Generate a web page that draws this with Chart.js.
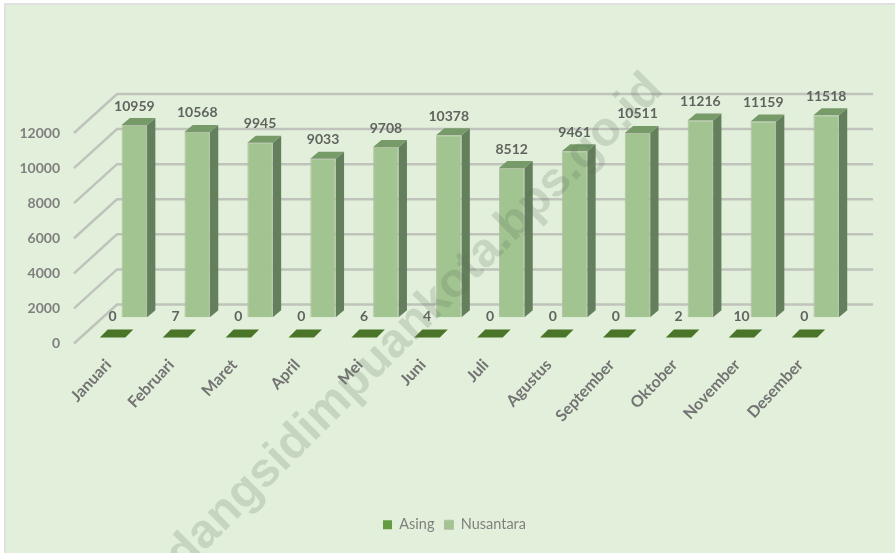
<!DOCTYPE html>
<html><head><meta charset="utf-8">
<style>
html,body{margin:0;padding:0;background:#fff;width:895px;height:553px;overflow:hidden}
#panel{position:absolute;left:4px;top:3px;width:889px;height:548px;background:#e2efda;border-left:2px solid #e0e0e0;border-top:2px solid #e0e0e0}
canvas{position:absolute;left:0;top:0}
</style>
<script src="https://cdn.jsdelivr.net/npm/chart.js@4"></script>
</head><body>
<div id="panel"></div>
<canvas id="c" width="895" height="553"></canvas>
<script>
const categories = ["Januari","Februari","Maret","April","Mei","Juni","Juli","Agustus","September","Oktober","November","Desember"];
const asing = [0,7,0,0,6,4,0,0,0,2,10,0];
const nusantara = [10959,10568,9945,9033,9708,10378,8512,9461,10511,11216,11159,11518];
const watermark = "padangsidimpuankota.bps.go.id";

const FONT = "Lato";
const wall = {dx:43, dy:-39, right:873};

const bar3d = {
  id:'bar3d',
  beforeDatasetsDraw(chart){
    const ctx = chart.ctx, y = chart.scales.y;
    const fx = 74, bx = fx + wall.dx;
    ctx.save();
    y.ticks.forEach(t=>{
      const py = y.getPixelForValue(t.value);
      ctx.beginPath();
      ctx.moveTo(fx,py); ctx.lineTo(bx,py+wall.dy); ctx.lineTo(wall.right,py+wall.dy);
      ctx.strokeStyle='#bfc3bb'; ctx.lineWidth=2.5; ctx.stroke();
    });
    const face=(pts,c)=>{ctx.beginPath();pts.forEach((p,i)=>i?ctx.lineTo(p[0],p[1]):ctx.moveTo(p[0],p[1]));ctx.closePath();ctx.fillStyle=c;ctx.fill();};
    chart.getDatasetMeta(1).data.forEach(el=>{
      const l=el.x-el.width/2, r=el.x+el.width/2, d=8.3, e=-7;
      face([[r,el.y],[r+d,el.y+e],[r+d,el.base+e],[r,el.base]],'#647f5c');
      face([[l,el.y],[l+d,el.y+e],[r+d,el.y+e],[r,el.y]],'#779a69');
    });
    chart.getDatasetMeta(0).data.forEach(el=>{
      const l=el.x-el.width/2, r=el.x+el.width/2, d=8, e=-8;
      face([[l,el.base],[l+d,el.base+e],[r+d,el.base+e],[r,el.base]],'#4a7428');
    });
    ctx.restore();
  },
  afterDatasetsDraw(chart){
    const ctx = chart.ctx;
    ctx.save();
    ctx.font='bold 14px '+FONT; ctx.fillStyle='#606460'; ctx.textAlign='center'; ctx.textBaseline='middle';
    chart.getDatasetMeta(1).data.forEach((el,i)=>ctx.fillText(String(nusantara[i]),el.x,el.y-19));
    chart.getDatasetMeta(0).data.forEach((el,i)=>ctx.fillText(String(asing[i]),el.x,el.base-21));
    ctx.restore();
  },
  afterDraw(chart){
    const ctx = chart.ctx;
    ctx.save();
    ctx.translate(144,612); ctx.rotate(-Math.PI/4);
    ctx.font='bold 48px "Liberation Sans"'; ctx.fillStyle='rgba(90,110,90,0.2)';
    ctx.textAlign='left'; ctx.textBaseline='alphabetic';
    ctx.fillText(watermark,0,0);
    ctx.restore();
  }
};

new Chart(document.getElementById('c'),{
  type:'bar',
  data:{labels:categories,datasets:[
    {label:'Asing',data:asing,yAxisID:'yA',backgroundColor:'#659b43',borderWidth:0,clip:false},
    {label:'Nusantara',data:nusantara,yAxisID:'yN',backgroundColor:'#a1c490',borderColor:'#b3bfa9',borderWidth:1,clip:false}
  ]},
  options:{
    responsive:false,animation:false,
    categoryPercentage:0.6916,barPercentage:1.172,
    layout:{padding:{top:133,left:14,right:0,bottom:11}},
    plugins:{
      tooltip:{enabled:false},
      legend:{position:'bottom',onClick:null,labels:{boxWidth:9,boxHeight:9,padding:10,color:'#7f7f7f',font:{family:FONT,size:14.5}}}
    },
    scales:{
      x:{grid:{display:false},border:{display:false},
        afterFit(s){s.height=164;},
        ticks:{autoSkip:false,minRotation:47,maxRotation:47,labelOffset:-15,padding:4,color:'#737373',font:{family:FONT,size:16,weight:'bold'}}},
      y:{position:'left',min:0,max:12000,grid:{display:false},border:{display:false},
        afterFit(s){s.width=78;},
        ticks:{stepSize:2000,padding:24,color:'#7f7f7f',font:{family:FONT,size:14,weight:'bold'},callback:v=>String(v)}},
      yN:{position:'right',min:-1493,max:10507,grid:{display:false},border:{display:false},
        afterFit(s){s.width=48.25;},ticks:{display:false}},
      yA:{display:false,min:-344,max:11656}
    }
  },
  plugins:[bar3d]
});
</script>
</body></html>
